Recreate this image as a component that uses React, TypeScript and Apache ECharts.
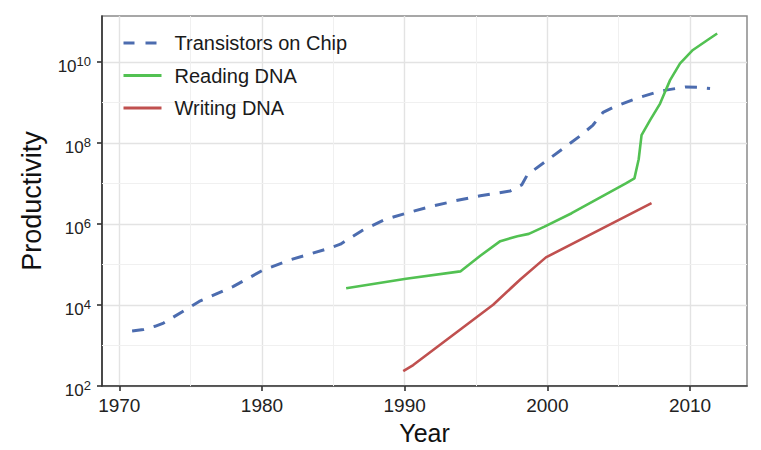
import React, { useEffect, useRef } from "react";
import * as echarts from "echarts";

const FONT = "'Liberation Sans', Arial, Helvetica, sans-serif";

const seriesNames = ["Transistors on Chip", "Reading DNA", "Writing DNA"];
const seriesColors = ["#4C6CAF", "#52C152", "#C0504F"];

// [year, productivity]
const transistors: [number, number][] = [
  [1970.9, 2.3e3], [1971.7, 2.5e3], [1972.5, 3.0e3], [1973.1, 3.6e3],
  [1975.6, 1.23e4], [1978.0, 2.9e4], [1980.1, 7.4e4], [1982.0, 1.32e5],
  [1984.5, 2.4e5], [1985.5, 3.2e5], [1987.0, 6.9e5], [1988.6, 1.29e6],
  [1990.5, 2.04e6], [1991.8, 2.7e6], [1993.6, 3.8e6], [1995.3, 5.0e6],
  [1997.4, 6.6e6], [1998.2, 9.3e6], [1998.6, 1.66e7], [2000.0, 3.8e7],
  [2002.3, 1.51e8], [2003.2, 2.8e8], [2003.9, 5.75e8], [2004.7, 7.9e8],
  [2006.2, 1.26e9], [2007.5, 1.74e9], [2008.3, 2.04e9], [2009.7, 2.45e9],
  [2010.5, 2.4e9], [2011.4, 2.24e9],
];

const readingDNA: [number, number][] = [
  [1985.9, 2.6e4], [1990.1, 4.5e4], [1993.9, 6.8e4], [1995.3, 1.66e5],
  [1996.7, 3.8e5], [1997.9, 5.0e5], [1998.7, 5.75e5], [1999.8, 8.7e5],
  [2001.7, 1.86e6], [2005.5, 1.02e7], [2006.1, 1.35e7], [2006.4, 4.0e7],
  [2006.6, 1.58e8], [2007.2, 3.7e8], [2007.9, 9.5e8], [2008.3, 2.04e9],
  [2008.6, 3.6e9], [2009.3, 9.3e9], [2010.2, 2.0e10], [2011.2, 3.47e10],
  [2011.9, 5.1e10],
];

const writingDNA: [number, number][] = [
  [1989.9, 234], [1990.6, 331], [1993.9, 2.5e3], [1996.2, 1.02e4],
  [1998.1, 4.3e4], [1999.9, 1.51e5], [2007.3, 3.3e6],
];

const xTicks = [1970, 1980, 1990, 2000, 2010];
const xMinor = [1975, 1985, 1995, 2005];
const yTickExponents = [2, 4, 6, 8, 10];
const yMinorExponents = [3, 5, 7, 9];

const X_MIN = 1968.79;
const X_MAX = 2013.99;
const Y_MIN = 2;
const Y_MAX = 11.14;

const toLog = (d: [number, number][]) => d.map(([x, y]) => [x, Math.log10(y)]);

export default function App() {
  const ref = useRef<HTMLDivElement>(null);

  useEffect(() => {
    document.body.style.margin = "0";
    if (!ref.current) return;
    const chart = echarts.init(ref.current, undefined, { renderer: "svg" });

    const tickColor = "#222";
    const major = { color: "#e3e3e3", width: 1.4, type: "solid" };
    const minor = { color: "#f0f0f0", width: 1, type: "solid" };

    const lineData = [transistors, readingDNA, writingDNA];

    chart.setOption({
      animation: false,
      backgroundColor: "#ffffff",
      textStyle: { fontFamily: FONT },
      grid: {
        left: 102,
        right: 14,
        top: 16,
        bottom: 63,
        show: true,
        borderColor: "#8a8a8a",
        borderWidth: 1.5,
        containLabel: false,
      },
      legend: {
        orient: "vertical",
        left: 122,
        top: 33,
        padding: 0,
        itemWidth: 38,
        itemHeight: 20,
        itemGap: 12.5,
        itemStyle: { opacity: 0 },
        data: seriesNames.map((name, i) => ({
          name,
          lineStyle: {
            width: 3,
            type: i === 0 ? [11, 11] : "solid",
          },
        })),
        textStyle: {
          fontFamily: FONT,
          fontSize: 20,
          lineHeight: 20,
          color: "#1a1a1a",
          padding: [0, 0, 0, 8],
        },
      },
      xAxis: {
        type: "value",
        min: X_MIN,
        max: X_MAX,
        name: "Year",
        nameLocation: "middle",
        nameGap: 33,
        nameTextStyle: { fontFamily: FONT, fontSize: 25, color: "#111" },
        axisLine: { show: true, lineStyle: { color: "#333", width: 1.6 } },
        axisTick: {
          show: true,
          length: 5,
          customValues: xTicks,
          lineStyle: { color: "#333", width: 1.6 },
        },
        axisLabel: {
          customValues: xTicks,
          margin: 10,
          fontFamily: FONT,
          fontSize: 19,
          color: tickColor,
          formatter: (v: number) =>
            Math.abs(v - Math.round(v)) < 1e-6 && Math.round(v) % 10 === 0 ? String(Math.round(v)) : "",
        },
        splitLine: { show: true, lineStyle: major },
      },
      yAxis: {
        type: "value",
        min: Y_MIN,
        max: Y_MAX,
        name: "Productivity",
        nameLocation: "middle",
        nameGap: 57,
        nameTextStyle: { fontFamily: FONT, fontSize: 27, color: "#111" },
        axisLine: { show: true, lineStyle: { color: "#333", width: 1.6 } },
        axisTick: {
          show: true,
          length: 5,
          customValues: yTickExponents,
          lineStyle: { color: "#333", width: 1.6 },
        },
        axisLabel: {
          customValues: yTickExponents,
          margin: 11,
          padding: [9, 0, 0, 0],
          formatter: (v: number) => {
            const r = Math.round(v);
            if (Math.abs(v - r) > 1e-6 || r % 2 !== 0) return "";
            return `{b|10}{s|${r}}`;
          },
          rich: {
            b: { fontFamily: FONT, fontSize: 17, lineHeight: 24, color: tickColor },
            s: { fontFamily: FONT, fontSize: 13, lineHeight: 10, verticalAlign: "top", color: tickColor },
          },
        },
        splitLine: { show: true, lineStyle: major },
      },
      series: [
        {
          name: "grid-minor",
          type: "line",
          data: [],
          silent: true,
          z: 1,
          markLine: {
            silent: true,
            z: 1,
            symbol: ["none", "none"],
            label: { show: false },
            lineStyle: minor,
            data: [
              ...xMinor.map((x) => ({ xAxis: x })),
              ...yMinorExponents.map((y) => ({ yAxis: y })),
            ],
          },
        },
        ...seriesNames.map((name, i) => ({
          name,
          type: "line",
          data: toLog(lineData[i]),
          symbol: "none",
          z: 3,
          lineStyle: {
            color: seriesColors[i],
            width: i === 0 ? 3 : 2.6,
            type: i === 0 ? [12, 10] : "solid",
          },
          itemStyle: { color: seriesColors[i] },
        })),
      ],
    });

    return () => chart.dispose();
  }, []);

  return <div ref={ref} style={{ width: 761, height: 450 }} />;
}
